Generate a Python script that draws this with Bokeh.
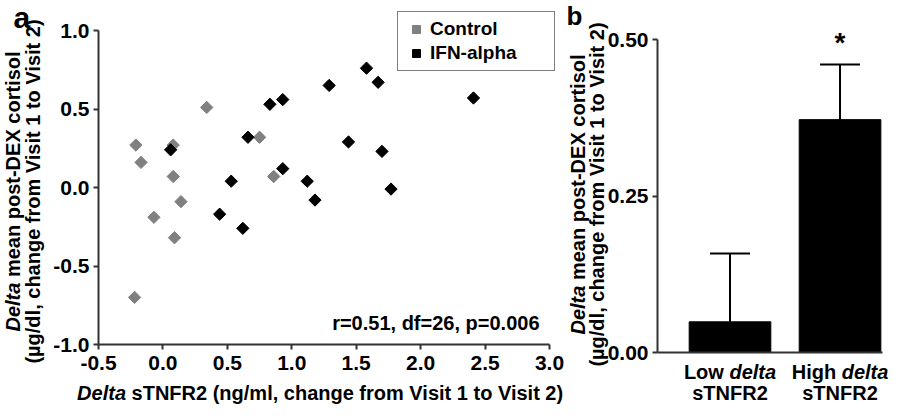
import numpy as np
from bokeh.plotting import figure
from bokeh.layouts import row
from bokeh.models import (Label, Legend, LegendItem, FixedTicker, Whisker, TeeHead,
                          ColumnDataSource, NumeralTickFormatter, LinearAxis)
from bokeh.embed import file_html
from bokeh.resources import INLINE

# ---------------- data ----------------
control_x = [-0.21, -0.17, 0.08, 0.08, 0.34, 0.75, 0.86, 0.14, -0.07, 0.09, -0.22]
control_y = [0.27, 0.16, 0.27, 0.07, 0.51, 0.32, 0.07, -0.09, -0.19, -0.32, -0.70]
ifn_x = [0.06, 0.53, 0.66, 0.83, 0.93, 0.93, 1.12, 1.29, 1.44, 1.58, 1.67, 2.41, 1.70, 1.77, 1.18, 0.44, 0.62]
ifn_y = [0.24, 0.04, 0.32, 0.53, 0.56, 0.12, 0.04, 0.65, 0.29, 0.76, 0.67, 0.57, 0.23, -0.01, -0.08, -0.17, -0.26]

a_xticks = [-0.5, 0.0, 0.5, 1.0, 1.5, 2.0, 2.5, 3.0]
a_xtick_labels = ["-0.5", "0.0", "0.5", "1.0", "1.5", "2.0", "2.5", "3.0"]
a_yticks = [-1.0, -0.5, 0.0, 0.5, 1.0]
a_ytick_labels = ["-1.0", "-0.5", "0.0", "0.5", "1.0"]

b_groups = [[("Low ", False), ("delta", True)], [("High ", False), ("delta", True)]]
b_groups2 = ["sTNFR2", "sTNFR2"]
b_means = [0.049, 0.372]
b_sem = [0.109, 0.088]
b_yticks = [0.0, 0.25, 0.5]
b_ytick_labels = ["0.00", "0.25", "0.50"]

stats_text = "r=0.51, df=26, p=0.006"

FONT = "Liberation Sans"
GRAY = "#808080"
AXIS = "#333333"

# Arial / Liberation Sans Bold advance widths (per 1000 em)
CW = {' ': 278, '(': 333, ')': 333, ',': 278, '-': 333, '.': 278, '/': 278, '=': 584, '*': 389,
      'A': 722, 'C': 722, 'D': 722, 'E': 667, 'F': 611, 'H': 722, 'I': 278, 'L': 611, 'N': 722,
      'R': 722, 'T': 611, 'V': 667, 'X': 667, 'a': 556, 'c': 556, 'd': 611, 'e': 556, 'f': 333,
      'g': 611, 'h': 611, 'i': 278, 'l': 278, 'm': 889, 'n': 611, 'o': 611, 'p': 611, 'r': 389,
      's': 556, 't': 333, 'w': 778, 'µ': 611}
for d in "0123456789":
    CW[d] = 556


def tw(s, size):
    return sum(CW.get(c, 556) for c in s) / 1000.0 * size


def style_axis(ax, ticks, labels, standoff):
    ax.ticker = FixedTicker(ticks=ticks, minor_ticks=[])
    ax.major_label_overrides = {t: l for t, l in zip(ticks, labels)}
    ax.major_label_text_font = FONT
    ax.major_label_text_font_style = "bold"
    ax.major_label_text_font_size = "21px"
    ax.major_label_text_color = "black"
    ax.major_label_standoff = standoff
    ax.axis_line_width = 2
    ax.axis_line_color = AXIS
    ax.major_tick_line_width = 2
    ax.major_tick_line_color = AXIS
    ax.major_tick_out = 5
    ax.major_tick_in = 0
    ax.minor_tick_out = 0
    ax.minor_tick_in = 0


def extended(x0, x1, y0, y1, fl, ft, fw, fh, W, H):
    """Ranges so that the data box (x0..x1, y0..y1) sits at pixel box (fl, ft, fw, fh)
    of a W x H canvas whose frame fills the canvas."""
    kx = (x1 - x0) / fw
    ky = (y1 - y0) / fh
    xr = (x0 - fl * kx, x1 + (W - fl - fw) * kx)
    yr = (y0 - (H - ft - fh) * ky, y1 + ft * ky)
    cx = lambda px: x0 + (px - fl) * kx
    cy = lambda py: y1 - (py - ft) * ky
    return xr, yr, (cx, cy)


def add_text(p, conv, px, py, text, size, style="bold", align="left", baseline="alphabetic", angle=0.0):
    cx, cy = conv
    p.add_layout(Label(x=cx(px), y=cy(py), text=text, text_font=FONT, text_font_size=f"{size}px",
                       text_font_style=style, text_color="black", text_align=align,
                       text_baseline=baseline, angle=angle))


def add_mixed(p, conv, pieces, cpx, cpy, size, baseline="alphabetic", rotated=False):
    total = sum(tw(t, size) for t, _ in pieces)
    adv = -total / 2.0
    for t, it in pieces:
        stripped = t.lstrip(' ')
        adv += tw(t[:len(t) - len(stripped)], size)
        style = "bold italic" if it else "bold"
        if rotated:
            add_text(p, conv, cpx, cpy - adv, stripped.rstrip(' '), size, style, "left", baseline, np.pi / 2)
        else:
            add_text(p, conv, cpx + adv, cpy, stripped.rstrip(' '), size, style, "left", baseline)
        adv += tw(stripped, size)


def base_fig(W, H, xr, yr):
    p = figure(frame_width=W, frame_height=H, x_range=xr, y_range=yr,
               output_backend="svg", toolbar_location=None,
               x_axis_location=None, y_axis_location=None,
               min_border=0, min_border_left=0, min_border_right=0,
               min_border_top=0, min_border_bottom=0)
    p.outline_line_color = None
    p.xgrid.visible = False
    p.ygrid.visible = False
    return p


# ---------------- panel a ----------------
AW, AH = 565, 404
AFL, AFT, AFW, AFH = 98, 30, 451, 314
axr, ayr, conv_a = extended(-0.5, 3.0, -1.0, 1.0, AFL, AFT, AFW, AFH, AW, AH)
pa = base_fig(AW, AH, axr, ayr)

xa = LinearAxis(fixed_location=-1.0, bounds=(-0.5, 3.0))
style_axis(xa, a_xticks, a_xtick_labels, 6)
xa.formatter = NumeralTickFormatter(format="0.0")
pa.add_layout(xa, "below")
ya = LinearAxis(fixed_location=-0.5, bounds=(-1.0, 1.0))
style_axis(ya, a_yticks, a_ytick_labels, 4)
ya.formatter = NumeralTickFormatter(format="0.0")
pa.add_layout(ya, "left")

r_ctrl = pa.scatter(control_x, control_y, marker="square", angle=np.pi / 4, size=8.7,
                    fill_color=GRAY, line_color=GRAY)
r_ifn = pa.scatter(ifn_x, ifn_y, marker="square", angle=np.pi / 4, size=8.7,
                   fill_color="black", line_color="black")

legend = Legend(items=[LegendItem(label="Control", renderers=[r_ctrl]),
                       LegendItem(label="IFN-alpha", renderers=[r_ifn])],
                location=(397, AH - 71), label_text_font=FONT, label_text_font_style="bold",
                label_text_font_size="19px", label_text_color="black",
                glyph_width=24, glyph_height=20, label_height=20, label_width=118,
                label_standoff=2, spacing=2, padding=6, margin=0,
                border_line_color="black", border_line_width=1.5,
                background_fill_color="white", background_fill_alpha=1.0)
pa.add_layout(legend, "center")

add_text(pa, conv_a, 539, 322, stats_text, 20, "bold", "right", "alphabetic")
add_text(pa, conv_a, 13, 17, "a", 30, "bold", "left", "alphabetic")
add_mixed(pa, conv_a, [("Delta", True), (" sTNFR2 (ng/ml, change from Visit 1 to Visit 2)", False)],
          320, 392, 20)
add_mixed(pa, conv_a, [("Delta", True), (" mean post-DEX cortisol", False)], 12, 191, 20,
          baseline="middle", rotated=True)
add_text(pa, conv_a, 32.5, 191, "(µg/dl, change from Visit 1 to Visit 2)", 20, "bold", "center",
         "middle", np.pi / 2)

# ---------------- panel b ----------------
BW, BH = 324, 404
BFL, BFT, BFW, BFH = 92, 39, 225, 313
BX0, BX1 = 0.341, 2.386
bxr, byr, conv_b = extended(BX0, BX1, 0.0, 0.5, BFL, BFT, BFW, BFH, BW, BH)
pb = base_fig(BW, BH, bxr, byr)

yb = LinearAxis(fixed_location=BX0, bounds=(0.0, 0.5))
style_axis(yb, b_yticks, b_ytick_labels, 4)
yb.formatter = NumeralTickFormatter(format="0.00")
pb.add_layout(yb, "left")
xb = LinearAxis(fixed_location=0.0, bounds=(BX0, BX1))
style_axis(xb, [], [], 6)
xb.major_label_text_font_size = "0px"
xb.major_tick_out = 0
pb.add_layout(xb, "below")

xpos = [i + 1 for i in range(len(b_means))]
upper = [m + s for m, s in zip(b_means, b_sem)]
src = ColumnDataSource(dict(x=xpos, mean=b_means, upper=upper))
pb.vbar(x="x", top="mean", bottom=0, width=0.742, source=src, fill_color="black", line_color="black")
pb.add_layout(Whisker(base="x", lower="mean", upper="upper", source=src, dimension="height",
                      line_color="black", line_width=2,
                      upper_head=TeeHead(size=40, line_color="black", line_width=2), lower_head=None))

px_per_x = BFW / (BX1 - BX0)
for i, (pieces, l2) in enumerate(zip(b_groups, b_groups2)):
    cpx = min(BFL + (xpos[i] - BX0) * px_per_x, BW - tw("High delta", 20) / 2 - 1)
    add_mixed(pb, conv_b, pieces, cpx, 371, 20)
    add_text(pb, conv_b, cpx, 392, l2, 20, "bold", "center", "alphabetic")

star_px = BFL + (xpos[1] - BX0) * px_per_x
add_text(pb, conv_b, star_px, 42, "*", 28, "bold", "center", "middle")
add_text(pb, conv_b, 1, 15, "b", 26, "bold", "left", "alphabetic")
add_mixed(pb, conv_b, [("Delta", True), (" mean post-DEX cortisol", False)], 12, 194, 20,
          baseline="middle", rotated=True)
add_text(pb, conv_b, 31.5, 194, "(µg/dl, change from Visit 1 to Visit 2)", 20, "bold", "center",
         "middle", np.pi / 2)

layout = row(pa, pb)
open("out.html", "w").write(file_html(layout, INLINE))
